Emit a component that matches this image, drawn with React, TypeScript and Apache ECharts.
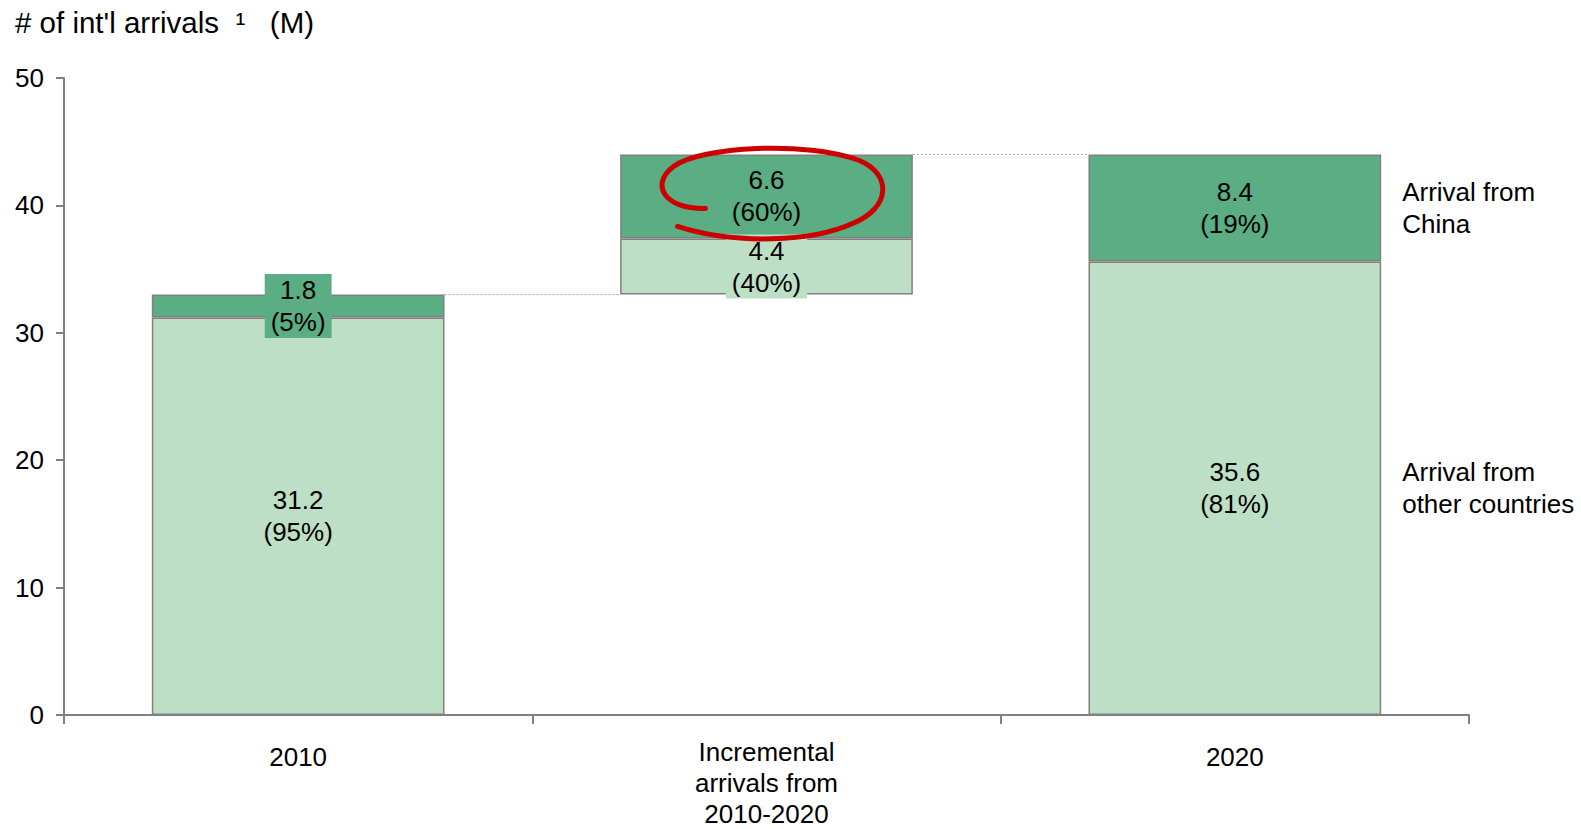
import React, { useEffect, useRef } from "react";
import * as echarts from "echarts";

const categories = ["2010", "Incremental\narrivals from\n2010-2020", "2020"];
const baseValues = [0, 33, 0];
const otherValues = [31.2, 4.4, 35.6];
const chinaValues = [1.8, 6.6, 8.4];
const otherPct = [95, 40, 81];
const chinaPct = [5, 60, 19];
const yTicks = { min: 0, max: 50, interval: 10 };
const sideLabels = ["Arrival from\nother countries", "Arrival from\nChina"];
const titleText = "# of int'l arrivals  \u00B9   (M)";

const DARK = "#5BAD83";
const LIGHT = "#BDDFC5";
const BORDER = "#808080";
const FONT = "'Liberation Sans', Arial, Helvetica, sans-serif";
const BAR_RATIO = 0.625;

export default function App() {
  const ref = useRef<HTMLDivElement>(null);
  useEffect(() => {
    if (!ref.current) return;
    const chart = echarts.init(ref.current, null, { renderer: "svg" });

    const totals = categories.map((_, i) => baseValues[i] + otherValues[i] + chinaValues[i]);
    const connectorData = [
      [0, totals[0]],
      [1, totals[1]],
    ];
    const circleData = [[1, baseValues[1] + otherValues[1] + chinaValues[1] / 2]];
    const sideData = [
      [2, otherValues[2] / 2, 0],
      [2, otherValues[2] + chinaValues[2] / 2, 1],
    ];

    const labelStyle = (bg: string) => ({
      show: true,
      position: "inside",
      color: "#000",
      fontSize: 26,
      lineHeight: 32,
      fontFamily: FONT,
      backgroundColor: bg,
      padding: [0, 6],
    });

    const categoryItems = categories.map((c) =>
      c.indexOf("\n") >= 0 ? c : { value: c, textStyle: { padding: [5, 0, 0, 0] } }
    );

    chart.setOption({
      animation: false,
      textStyle: { fontFamily: FONT },
      title: {
        text: titleText,
        left: 10,
        top: 2,
        textStyle: { fontSize: 29.5, fontWeight: "normal", color: "#000", fontFamily: FONT },
      },
      grid: { left: 64, right: 112, top: 78, bottom: 108, containLabel: false },
      xAxis: {
        type: "category",
        data: categoryItems,
        axisLine: { show: true, lineStyle: { color: BORDER, width: 2 } },
        axisTick: { show: true, length: 9, lineStyle: { color: BORDER, width: 2 } },
        axisLabel: { color: "#000", fontSize: 26, lineHeight: 31, margin: 21, fontFamily: FONT, interval: 0 },
      },
      yAxis: {
        type: "value",
        min: yTicks.min,
        max: yTicks.max,
        interval: yTicks.interval,
        splitLine: { show: false },
        axisLine: { show: true, lineStyle: { color: BORDER, width: 2 } },
        axisTick: { show: true, length: 8, lineStyle: { color: BORDER, width: 2 } },
        axisLabel: { color: "#000", fontSize: 26, margin: 20, fontFamily: FONT },
      },
      series: [
        {
          name: "base",
          type: "bar",
          stack: "total",
          barWidth: BAR_RATIO * 100 + "%",
          data: baseValues,
          itemStyle: { color: "transparent", borderWidth: 0 },
          label: { show: false },
          silent: true,
        },
        {
          name: "other",
          type: "bar",
          stack: "total",
          data: otherValues,
          itemStyle: { color: LIGHT, borderColor: BORDER, borderWidth: 1.5 },
          label: {
            ...labelStyle(LIGHT),
            formatter: (p: any) => `${otherValues[p.dataIndex].toFixed(1)}\n(${otherPct[p.dataIndex]}%)`,
          },
        },
        {
          name: "china",
          type: "bar",
          stack: "total",
          data: chinaValues,
          itemStyle: { color: DARK, borderColor: BORDER, borderWidth: 1.5 },
          label: {
            ...labelStyle(DARK),
            formatter: (p: any) => `${chinaValues[p.dataIndex].toFixed(1)}\n(${chinaPct[p.dataIndex]}%)`,
          },
        },
        {
          name: "connectors",
          type: "custom",
          data: connectorData,
          z: 1,
          silent: true,
          clip: false,
          renderItem: (params: any, api: any) => {
            const i = api.value(0);
            const v = api.value(1);
            const p1 = api.coord([i, v]);
            const p2 = api.coord([i + 1, v]);
            const half = (api.size([1, 0])[0] * BAR_RATIO) / 2;
            return {
              type: "line",
              shape: { x1: p1[0] + half, y1: p1[1], x2: p2[0] - half, y2: p2[1] },
              style: { stroke: "#A0A0A0", lineWidth: 1, lineDash: [2, 2] },
            };
          },
        },
        {
          name: "highlight",
          type: "custom",
          data: circleData,
          z: 10,
          silent: true,
          clip: false,
          renderItem: (params: any, api: any) => {
            const c = api.coord([api.value(0), api.value(1)]);
            return {
              type: "path",
              x: c[0],
              y: c[1],
              shape: {
                pathData:
                  "M -61 12 C -102 13 -117 -12 -93 -30 C -66 -50 40 -56 93 -36 C 126 -22 124 12 86 27 C 46 45 -30 49 -89 30",
              },
              style: { stroke: "#CC0000", lineWidth: 5, fill: "none", lineCap: "round", lineJoin: "round" },
            };
          },
        },
        {
          name: "side",
          type: "custom",
          data: sideData,
          z: 5,
          silent: true,
          clip: false,
          renderItem: (params: any, api: any) => {
            const c = api.coord([api.value(0), api.value(1)]);
            const half = (api.size([1, 0])[0] * BAR_RATIO) / 2;
            return {
              type: "text",
              x: c[0] + half + 21,
              y: c[1],
              style: {
                text: sideLabels[api.value(2)],
                fill: "#000",
                fontSize: 26,
                fontFamily: FONT,
                lineHeight: 32,
                align: "left",
                verticalAlign: "middle",
              },
            };
          },
        },
      ],
    });
    return () => chart.dispose();
  }, []);
  return (
    <div
      ref={ref}
      style={{ position: "fixed", left: 0, top: 0, width: 1581, height: 829, background: "#fff" }}
    />
  );
}
